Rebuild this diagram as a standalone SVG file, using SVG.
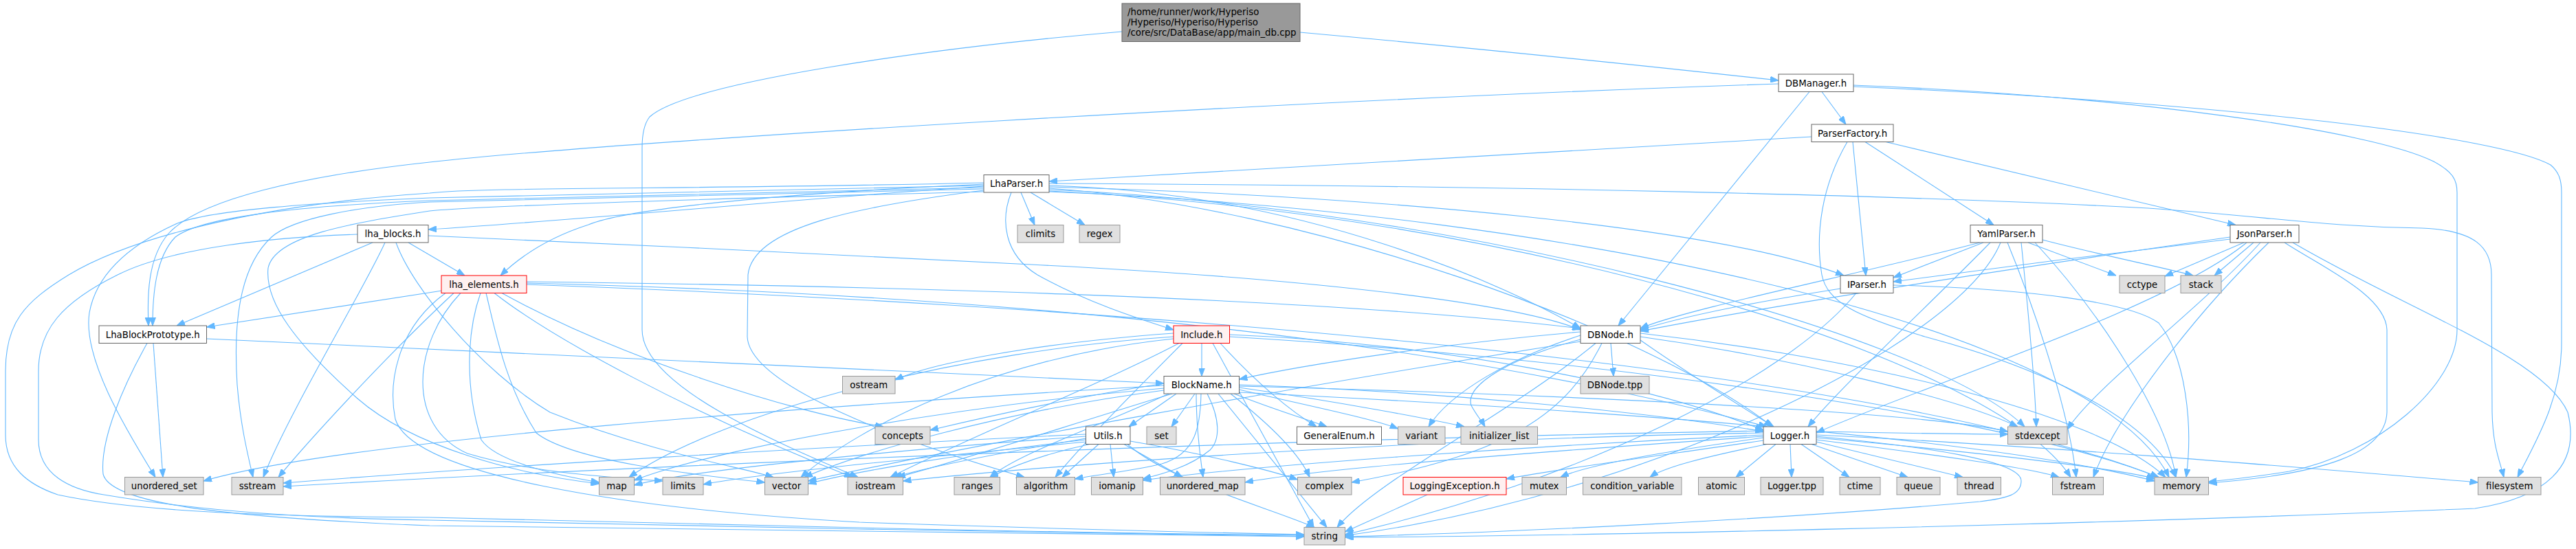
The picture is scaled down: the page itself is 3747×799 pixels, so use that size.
<svg xmlns="http://www.w3.org/2000/svg" width="3747" height="799" viewBox="0 0 3747 799">
<style>
.e{fill:none;stroke:#63b8ff;stroke-width:1.1;marker-end:url(#ah)}
.n rect{stroke-width:1}
.ext rect{fill:#e0e0e0;stroke:#999999}
.int rect{fill:#ffffff;stroke:#666666}
.red rect{fill:#fff0f0;stroke:#ff0000}
.main rect{fill:#999999;stroke:#666666}
text{font-family:"DejaVu Sans","Noto Sans",sans-serif;font-size:13.33px;fill:#000000}
.n text{text-anchor:middle}
.main text{text-anchor:start}
</style>
<defs>
<marker id="ah" viewBox="0 0 12 9" refX="12" refY="4.5" markerWidth="12" markerHeight="9" markerUnits="userSpaceOnUse" orient="auto">
<path d="M0,0 L12,4.5 L0,9 z" fill="#63b8ff" stroke="#63b8ff" stroke-width="1"/>
</marker>
</defs>
<rect width="3747" height="799" fill="#ffffff"/>
<g id="edges">
<path class="e" d="M1891,47 C2200,75 2450,102 2587,117"/>
<path class="e" d="M1632,46 C1350,70 1000,120 945,170 C937,180 934,195 934,215 L934,480 C934,560 1120,640 1248,694.5"/>
<path class="e" d="M2650,133.5 L2685,181"/>
<path class="e" d="M2632,133.5 L2354,474"/>
<path class="e" d="M2587,122 C1900,145 900,205 625,236 C440,256 290,290 245,340 C215,375 214,430 216,474"/>
<path class="e" d="M2696,124 C3100,140 3450,190 3540,235 C3568,250 3574,262 3574,280 L3574,480 C3574,560 3460,660 3330,686 C3280,694 3245,698 3212.5,701"/>
<path class="e" d="M2696,126 C3250,150 3640,200 3710,240 C3722,250 3726,262 3726,280 L3726,500 C3726,580 3690,640 3662,694.5"/>
<path class="e" d="M2635,199 L1526,264"/>
<path class="e" d="M2713,206.5 L2900,327.5"/>
<path class="e" d="M2743,206.5 L3252,327.5"/>
<path class="e" d="M2695,206.5 L2714,401"/>
<path class="e" d="M2687,206.5 C2650,270 2640,340 2650,400 C2658,440 2700,460 2800,490 C2950,530 3120,600 3165,694.5"/>
<path class="e" d="M1485,280 L1505,327.5"/>
<path class="e" d="M1499,280 L1578,327.5"/>
<path class="e" d="M1431,271 C1150,290 850,320 623,334"/>
<path class="e" d="M1431,268 C1200,278 920,300 856,327 C800,345 760,370 728,401"/>
<path class="e" d="M1431,273 C1000,285 700,288 625,292 C420,300 290,318 255,345 C226,375 222,430 222,474"/>
<path class="e" d="M1431,270 C1000,280 700,284 625,288 C460,295 310,305 258,325 C185,358 140,400 130,455 C120,520 180,620 226,694.5"/>
<path class="e" d="M1431,275 C1000,287 700,291 625,294 C520,300 425,318 395,345 C355,382 338,450 345,560 C350,620 360,660 368,694.5"/>
<path class="e" d="M1431,266 C1000,276 700,272 625,281 C400,296 200,340 100,400 C35,440 8,470 8,540 L8,633 C8,680 40,705 84,720 C200,745 400,752 625,753 L1250,768 C1600,776 1800,778 1897,779"/>
<path class="e" d="M1471,280 C1455,320 1460,370 1509,400 C1580,440 1660,465 1707,480"/>
<path class="e" d="M1526,267 C2200,270 2800,285 3125,303 C3300,315 3380,330 3523,332 C3600,335 3624,360 3624,400 L3625,600 C3626,650 3636,670 3642,694.5"/>
<path class="e" d="M1526,270 C1900,280 2200,420 2299,478"/>
<path class="e" d="M1526,272 C2000,285 2500,330 2682,401"/>
<path class="e" d="M1526,274 C1900,300 2400,480 2578,621"/>
<path class="e" d="M1526,276 C2100,300 2800,480 2945,621"/>
<path class="e" d="M1526,278 C2200,310 2900,520 3012,694.5"/>
<path class="e" d="M1526,279 C2300,310 3050,480 3155,694.5"/>
<path class="e" d="M1431,279 C1000,290 700,300 625,307 C510,325 400,343 390,390 C385,440 430,500 520,580 C600,650 750,690 871.5,704"/>
<path class="e" d="M1431,277 C1250,300 1095,330 1088,400 L1087,490 C1090,560 1300,640 1490,694.5"/>
<path class="e" d="M594,353 L676,401"/>
<path class="e" d="M542,353 L257,474"/>
<path class="e" d="M560,353 C530,420 420,600 383,694.5"/>
<path class="e" d="M520,341 C400,345 250,360 171,400 C90,440 56,480 56,540 L56,640 C56,690 100,712 151,720 C300,745 450,754 625,757 L1250,770 C1600,777 1800,780 1897,780.5"/>
<path class="e" d="M623,343 C900,355 1250,372 1500,385 C1900,405 2200,440 2299,480"/>
<path class="e" d="M576,353 C600,420 700,540 800,600 C950,660 1080,680 1125,694.5"/>
<path class="e" d="M643,423 L300.5,476"/>
<path class="e" d="M699,426.5 C680,480 675,560 700,640 C720,670 800,690 871.5,702"/>
<path class="e" d="M707,426.5 C720,480 735,560 780,630 C830,670 1000,690 1112.5,702"/>
<path class="e" d="M719,426.5 C800,490 1000,600 1240,694.5"/>
<path class="e" d="M670,426.5 C600,500 590,620 680,660 C780,690 900,695 964,700"/>
<path class="e" d="M660,426.5 C560,520 450,640 405,694.5"/>
<path class="e" d="M766,412 C1300,425 2000,470 2570,621"/>
<path class="e" d="M766,410 C1200,415 1900,430 2299,478"/>
<path class="e" d="M766,414 C1500,440 2700,520 3140,694.5"/>
<path class="e" d="M730,426.5 C900,520 1150,600 1285,621"/>
<path class="e" d="M648,426.5 C575,480 565,560 575,610 C600,690 900,740 1250,760 C1600,772 1800,776 1897,778"/>
<path class="e" d="M1748,499.5 L1748,547.5"/>
<path class="e" d="M1707,485 C1500,500 1350,530 1302,553"/>
<path class="e" d="M1775,499.5 C1830,560 1880,600 1915,621"/>
<path class="e" d="M1764,499.5 L1911,767.5"/>
<path class="e" d="M1788.5,487 C2100,500 2400,560 2565,626"/>
<path class="e" d="M1707,490 C1400,510 1050,600 915,694.5"/>
<path class="e" d="M1707,493 C1450,520 1250,620 1165,694.5"/>
<path class="e" d="M1715,499.5 C1600,560 1400,640 1295,694.5"/>
<path class="e" d="M1788.5,490 C2300,520 2900,600 3140,694.5"/>
<path class="e" d="M1720,499.5 C1650,570 1580,640 1535,694.5"/>
<path class="e" d="M1711,573 L1642,621"/>
<path class="e" d="M1738,573 L1704,621"/>
<path class="e" d="M1693,558 C1550,580 1420,610 1353,626"/>
<path class="e" d="M1795,573 C1850,595 1900,610 1930,621"/>
<path class="e" d="M1802.5,567 C1900,590 2000,610 2033.5,624"/>
<path class="e" d="M1802.5,564 C1950,585 2080,610 2130,621"/>
<path class="e" d="M1802.5,560 C2100,570 2400,600 2565,628"/>
<path class="e" d="M1802.5,562 C2300,575 2800,600 2920.5,628"/>
<path class="e" d="M1747,573 C1746,620 1740,660 1690,675 C1650,685 1600,690 1563.5,697"/>
<path class="e" d="M1756,573 C1775,610 1775,640 1760,655 C1730,680 1690,690 1662.5,697"/>
<path class="e" d="M1772,573 L1930,767.5"/>
<path class="e" d="M1740,573 C1740,620 1745,660 1750,694.5"/>
<path class="e" d="M1693,565 C1400,590 1050,650 922.5,699"/>
<path class="e" d="M1693,568 C1450,600 1250,660 1170,694.5"/>
<path class="e" d="M1705,573 C1550,620 1400,670 1305,694.5"/>
<path class="e" d="M1693,561 C1200,590 500,640 296,700"/>
<path class="e" d="M1802.5,571 C2400,600 2900,640 3134,700"/>
<path class="e" d="M1790,573 C1850,620 1890,660 1905,694.5"/>
<path class="e" d="M1700,573 C1600,620 1480,660 1440,694.5"/>
<path class="e" d="M2343,499.5 L2347,547.5"/>
<path class="e" d="M2299,483 C2100,500 1900,530 1802.5,552"/>
<path class="e" d="M2299,488 C2200,520 2110,570 2078,621"/>
<path class="e" d="M2299,494 C2200,520 2130,560 2140,590 C2148,605 2155,612 2160,621"/>
<path class="e" d="M2321,499.5 C2200,600 2000,700 1945,767.5"/>
<path class="e" d="M2330,499.5 C2280,600 2200,660 1966,702"/>
<path class="e" d="M2386,495 C2450,540 2530,590 2580,621"/>
<path class="e" d="M2386,490 C2600,520 2850,580 2935,621"/>
<path class="e" d="M2386,485 C2700,520 3050,600 3150,694.5"/>
<path class="e" d="M2299,497 C1900,560 1400,650 1175.5,700"/>
<path class="e" d="M2677,420 C2550,440 2450,460 2386,480"/>
<path class="e" d="M2754,415 C2950,420 3100,440 3140,470 C3180,520 3190,620 3180,694.5"/>
<path class="e" d="M2700,426.5 C2600,550 2300,700 1956.5,778"/>
<path class="e" d="M2885,353 L2754,404"/>
<path class="e" d="M2880,353 C2700,400 2450,450 2386,478"/>
<path class="e" d="M2895,353 C2800,450 2680,560 2630,621"/>
<path class="e" d="M2940,353 C2950,450 2960,560 2962,621"/>
<path class="e" d="M2950,353 L3078,401"/>
<path class="e" d="M2971,349 C3050,370 3150,390 3190,401"/>
<path class="e" d="M2920,353 C2960,450 3010,600 3020,694.5"/>
<path class="e" d="M2960,353 C3050,450 3150,600 3165,694.5"/>
<path class="e" d="M2910,353 C2850,500 2400,720 1956.5,779.5"/>
<path class="e" d="M3244,348 C3100,365 2900,390 2754,410"/>
<path class="e" d="M3264,353 L3149,402"/>
<path class="e" d="M3278,353 L3221,401"/>
<path class="e" d="M3244,345 C3000,380 2600,440 2386,482"/>
<path class="e" d="M3268,353 C3150,450 2800,560 2642,630"/>
<path class="e" d="M3288,353 C3200,450 3050,560 3007,625"/>
<path class="e" d="M3323,353 C3380,390 3470,430 3472,480 L3472,600 C3470,660 3380,690 3212.5,703"/>
<path class="e" d="M3335,353 C3500,450 3700,520 3735,600 C3755,680 3700,725 3600,740 C3000,765 2300,780 1956.5,782"/>
<path class="e" d="M3300,353 C3200,450 3080,600 3045,694.5"/>
<path class="e" d="M1598,646.5 L1545,694.5"/>
<path class="e" d="M1615,646.5 L1620,694.5"/>
<path class="e" d="M1635,646.5 L1720,694.5"/>
<path class="e" d="M1585,646.5 C1520,660 1470,680 1440,694.5"/>
<path class="e" d="M1579.5,638 C1450,660 1350,680 1300,694.5"/>
<path class="e" d="M1579.5,632 C1200,650 700,680 412,703"/>
<path class="e" d="M1579.5,640 C1400,660 1250,685 1175.5,704"/>
<path class="e" d="M1579.5,643 C1300,670 1100,690 1023,705"/>
<path class="e" d="M1579.5,635 C1300,655 1000,685 922.5,706"/>
<path class="e" d="M1640,646.5 C1700,700 1850,740 1912,767.5"/>
<path class="e" d="M1644,642 C1750,660 1850,685 1887.5,698"/>
<path class="e" d="M2583,646.5 L2525,694.5"/>
<path class="e" d="M2604,646.5 L2606,694.5"/>
<path class="e" d="M2620,646.5 L2690,694.5"/>
<path class="e" d="M2635,646.5 L2775,694.5"/>
<path class="e" d="M2642,643 L2855,694.5"/>
<path class="e" d="M2642,640 C2800,660 2950,680 2995,694.5"/>
<path class="e" d="M2642,637 C2900,660 3100,685 3134,697"/>
<path class="e" d="M2642,633 C3000,650 3400,685 3604.5,702"/>
<path class="e" d="M2565,641 C2400,665 2250,685 2191,697"/>
<path class="e" d="M2565,637 C2400,660 2300,680 2270,694.5"/>
<path class="e" d="M2570,646.5 C2480,665 2420,680 2400,694.5"/>
<path class="e" d="M2565,630 C2000,640 1500,680 1313.5,700"/>
<path class="e" d="M2565,627 C1800,640 900,680 412,708"/>
<path class="e" d="M2565,633 C2200,650 1800,680 1662.5,699"/>
<path class="e" d="M2642,635 C2800,650 2940,670 2940,700 C2940,720 2920,725 2880,730 C2600,755 2200,775 1956.5,781"/>
<path class="e" d="M2642,628 C2750,630 2850,632 2920.5,632"/>
<path class="e" d="M2565,635 C2200,660 1900,685 1811,702"/>
<path class="e" d="M2076,720 L1956.5,774"/>
<path class="e" d="M214,499.5 C180,560 145,640 150,690 C160,730 300,752 625,765 L1250,773 C1600,778 1800,781 1897,781"/>
<path class="e" d="M300.5,493 L1693,558"/>
<path class="e" d="M223,499.5 L237,694.5"/>
</g>
<g id="node-main" class="main"><rect x="1632" y="5" width="259" height="55.5"/><text x="1640" y="21.5">/home/runner/work/Hyperiso</text><text x="1640" y="36.5">/Hyperiso/Hyperiso/Hyperiso</text><text x="1640" y="51.5">/core/src/DataBase/app/main_db.cpp</text></g>
<g id="node-DBManager" class="n int"><rect x="2587" y="108" width="109" height="25.5"/><text x="2641.5" y="125.5">DBManager.h</text></g>
<g id="node-ParserFactory" class="n int"><rect x="2635" y="181" width="119" height="25.5"/><text x="2694.5" y="198.5">ParserFactory.h</text></g>
<g id="node-LhaParser" class="n int"><rect x="1431" y="254.5" width="95" height="25.5"/><text x="1478.5" y="272">LhaParser.h</text></g>
<g id="node-climits" class="n ext"><rect x="1480" y="327.5" width="67" height="25.5"/><text x="1513.5" y="345">climits</text></g>
<g id="node-regex" class="n ext"><rect x="1570" y="327.5" width="59" height="25.5"/><text x="1599.5" y="345">regex</text></g>
<g id="node-lha_blocks" class="n int"><rect x="520" y="327.5" width="103" height="25.5"/><text x="571.5" y="345">lha_blocks.h</text></g>
<g id="node-YamlParser" class="n int"><rect x="2866" y="327.5" width="105" height="25.5"/><text x="2918.5" y="345">YamlParser.h</text></g>
<g id="node-JsonParser" class="n int"><rect x="3244" y="327.5" width="100" height="25.5"/><text x="3294" y="345">JsonParser.h</text></g>
<g id="node-lha_elements" class="n red"><rect x="642" y="401" width="124" height="25.5"/><text x="704" y="418.5">lha_elements.h</text></g>
<g id="node-IParser" class="n int"><rect x="2677" y="401" width="77" height="25.5"/><text x="2715.5" y="418.5">IParser.h</text></g>
<g id="node-cctype" class="n ext"><rect x="3083" y="401" width="66" height="25.5"/><text x="3116" y="418.5">cctype</text></g>
<g id="node-stack" class="n ext"><rect x="3172" y="401" width="59" height="25.5"/><text x="3201.5" y="418.5">stack</text></g>
<g id="node-LhaBlockPrototype" class="n int"><rect x="144" y="474" width="156.5" height="25.5"/><text x="222.25" y="491.5">LhaBlockPrototype.h</text></g>
<g id="node-Include" class="n red"><rect x="1707" y="474" width="81.5" height="25.5"/><text x="1747.75" y="491.5">Include.h</text></g>
<g id="node-DBNode" class="n int"><rect x="2299" y="474" width="87" height="25.5"/><text x="2342.5" y="491.5">DBNode.h</text></g>
<g id="node-ostream" class="n ext"><rect x="1225.5" y="547.5" width="76.5" height="25.5"/><text x="1263.75" y="565">ostream</text></g>
<g id="node-BlockName" class="n int"><rect x="1693" y="547.5" width="109.5" height="25.5"/><text x="1747.75" y="565">BlockName.h</text></g>
<g id="node-DBNode_tpp" class="n ext"><rect x="2299" y="547.5" width="100" height="25.5"/><text x="2349" y="565">DBNode.tpp</text></g>
<g id="node-concepts" class="n ext"><rect x="1273" y="621" width="80" height="25.5"/><text x="1313" y="638.5">concepts</text></g>
<g id="node-Utils" class="n int"><rect x="1579.5" y="621" width="64.5" height="25.5"/><text x="1611.75" y="638.5">Utils.h</text></g>
<g id="node-set" class="n ext"><rect x="1668" y="621" width="43" height="25.5"/><text x="1689.5" y="638.5">set</text></g>
<g id="node-GeneralEnum" class="n int"><rect x="1886.5" y="621" width="123" height="25.5"/><text x="1948" y="638.5">GeneralEnum.h</text></g>
<g id="node-variant" class="n ext"><rect x="2033.5" y="621" width="68.5" height="25.5"/><text x="2067.75" y="638.5">variant</text></g>
<g id="node-initializer_list" class="n ext"><rect x="2125" y="621" width="111.5" height="25.5"/><text x="2180.75" y="638.5">initializer_list</text></g>
<g id="node-Logger" class="n int"><rect x="2565" y="621" width="77" height="25.5"/><text x="2603.5" y="638.5">Logger.h</text></g>
<g id="node-stdexcept" class="n ext"><rect x="2920.5" y="621" width="86.5" height="25.5"/><text x="2963.75" y="638.5">stdexcept</text></g>
<g id="node-unordered_set" class="n ext"><rect x="181.5" y="694.5" width="114.5" height="25.5"/><text x="238.75" y="712">unordered_set</text></g>
<g id="node-sstream" class="n ext"><rect x="337" y="694.5" width="75" height="25.5"/><text x="374.5" y="712">sstream</text></g>
<g id="node-map" class="n ext"><rect x="871.5" y="694.5" width="51" height="25.5"/><text x="897" y="712">map</text></g>
<g id="node-limits" class="n ext"><rect x="964" y="694.5" width="59" height="25.5"/><text x="993.5" y="712">limits</text></g>
<g id="node-vector" class="n ext"><rect x="1112.5" y="694.5" width="63" height="25.5"/><text x="1144" y="712">vector</text></g>
<g id="node-iostream" class="n ext"><rect x="1233" y="694.5" width="80.5" height="25.5"/><text x="1273.25" y="712">iostream</text></g>
<g id="node-ranges" class="n ext"><rect x="1388" y="694.5" width="66.5" height="25.5"/><text x="1421.25" y="712">ranges</text></g>
<g id="node-algorithm" class="n ext"><rect x="1478.5" y="694.5" width="85" height="25.5"/><text x="1521" y="712">algorithm</text></g>
<g id="node-iomanip" class="n ext"><rect x="1587.5" y="694.5" width="75" height="25.5"/><text x="1625" y="712">iomanip</text></g>
<g id="node-unordered_map" class="n ext"><rect x="1687.5" y="694.5" width="123.5" height="25.5"/><text x="1749.25" y="712">unordered_map</text></g>
<g id="node-complex" class="n ext"><rect x="1887.5" y="694.5" width="78.5" height="25.5"/><text x="1926.75" y="712">complex</text></g>
<g id="node-LoggingException" class="n red"><rect x="2041" y="694.5" width="150" height="25.5"/><text x="2116" y="712">LoggingException.h</text></g>
<g id="node-mutex" class="n ext"><rect x="2214" y="694.5" width="64.5" height="25.5"/><text x="2246.25" y="712">mutex</text></g>
<g id="node-condition_variable" class="n ext"><rect x="2302.5" y="694.5" width="143.5" height="25.5"/><text x="2374.25" y="712">condition_variable</text></g>
<g id="node-atomic" class="n ext"><rect x="2470.5" y="694.5" width="67" height="25.5"/><text x="2504" y="712">atomic</text></g>
<g id="node-Logger_tpp" class="n ext"><rect x="2561" y="694.5" width="91" height="25.5"/><text x="2606.5" y="712">Logger.tpp</text></g>
<g id="node-ctime" class="n ext"><rect x="2676" y="694.5" width="59" height="25.5"/><text x="2705.5" y="712">ctime</text></g>
<g id="node-queue" class="n ext"><rect x="2759" y="694.5" width="63" height="25.5"/><text x="2790.5" y="712">queue</text></g>
<g id="node-thread" class="n ext"><rect x="2847" y="694.5" width="63.5" height="25.5"/><text x="2878.75" y="712">thread</text></g>
<g id="node-fstream" class="n ext"><rect x="2985.5" y="694.5" width="74" height="25.5"/><text x="3022.5" y="712">fstream</text></g>
<g id="node-memory" class="n ext"><rect x="3134" y="694.5" width="78.5" height="25.5"/><text x="3173.25" y="712">memory</text></g>
<g id="node-filesystem" class="n ext"><rect x="3604.5" y="694.5" width="91.5" height="25.5"/><text x="3650.25" y="712">filesystem</text></g>
<g id="node-string" class="n ext"><rect x="1897" y="767.5" width="59.5" height="25.5"/><text x="1926.75" y="785">string</text></g>
</svg>
